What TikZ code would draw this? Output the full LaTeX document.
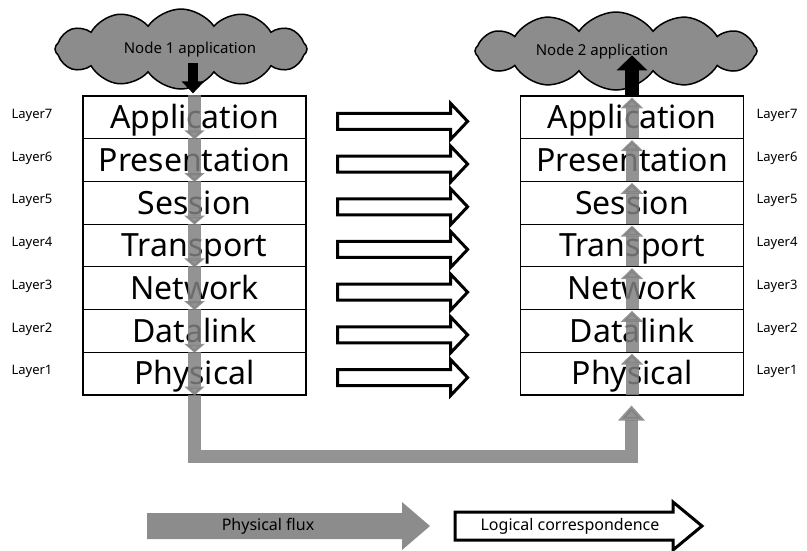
\documentclass[tikz,border=0pt]{standalone}
\usepackage{fontspec}
\setmainfont{Noto Sans}
\usetikzlibrary{shapes.symbols,arrows.meta,calc}

\begin{document}
\begin{tikzpicture}[x=1pt,y=-1pt,
  layerbox/.style={draw=black, line width=1.2pt, minimum width=223pt,
    minimum height=42.7pt, inner sep=0pt, text height=22.8pt, text depth=0pt,
    font=\fontsize{32}{34}\selectfont},
  layerlabel/.style={font=\fontsize{13}{15}\selectfont, inner sep=0pt},
  logic/.style={draw=black, fill=white, line width=3pt, line join=miter},
  flux/.style={draw=black!50, line width=13pt, opacity=0.85},
  fluxfill/.style={fill=black!50, draw=none, opacity=0.9},
  cloudnode/.style={cloud, cloud puffs=12, cloud puff arc=110, aspect=3.2,
    draw=black, line width=1.5pt, fill=black!45, inner sep=0pt},
  cloudtext/.style={font=\fontsize{15}{17}\selectfont, inner sep=0pt},
  blackarrow/.style={draw=black, line width=#1}
]
\useasboundingbox (0,0) rectangle (807,550);

% application clouds
\node[cloudnode, minimum width=252pt, minimum height=80pt] (cloudA) at (181,49) {};
\node[cloudnode, minimum width=282pt, minimum height=78pt] (cloudB) at (616,51) {};
\node[cloudtext] (cloudAtext) at (190,50) {Node 1 application};
\node[cloudtext] (cloudBtext) at (602,52) {Node 2 application};

% the two protocol stacks
\foreach \i/\name/\lay in {1/Application/7,2/Presentation/6,3/Session/5,
    4/Transport/4,5/Network/3,6/Datalink/2,7/Physical/1}{
  \pgfmathsetmacro{\yc}{96+42.7*(\i-0.5)}
  \node[layerbox] (L\i) at (194.5,\yc) {\name};
  \node[layerbox] (R\i) at (632,\yc) {\name};
  \node[layerlabel] (LL\i) at (32,\yc-2) {Layer\lay};
  \node[layerlabel] (RL\i) at (777,\yc-2) {Layer\lay};
  % logical correspondence between peer layers
  \coordinate (la\i) at ($(L\i.east)+(31,4)$);
  \draw[logic] ($(la\i)+(0,-8)$) -- ++(113,0) -- ++(0,-10) -- ++(17,18)
    -- ++(-17,18) -- ++(0,-10) -- ++(-113,0) -- cycle;
}

% physical flux down through node 1
\foreach \i in {1,...,7}{
  \draw[flux, -{Triangle[width=20pt,length=9pt]}] (L\i.north) -- (L\i.south);
}
% physical flux up through node 2
\foreach \i in {1,...,7}{
  \draw[flux, -{Triangle[width=22pt,length=11pt]}] ($(R\i.south)+(0,-1)$) -- ($(R\i.north)+(0,2)$);
}
% medium link between the two nodes
\coordinate (fluxA) at ($(L7.south)+(0,-1)$);
\coordinate (fluxB) at ($(L7.south)+(0,60.5)$);
\coordinate (fluxC) at ($(R7.south)+(-0.5,60.5)$);
\coordinate (fluxD) at ($(R7.south)+(-0.5,10)$);
\draw[flux, line join=miter, -{Triangle[width=26pt,length=15pt]}]
  (fluxA) -- (fluxB) -- (fluxC) -- (fluxD);

% application entry and exit
\coordinate (inA) at ($(L1.north)+(-1.5,-32)$);
\draw[blackarrow=10pt, -{Triangle[width=22pt,length=12pt]}] (inA) -- ($(L1.north)+(-1.5,-2)$);
\coordinate (outB) at ($(R1.north)+(0,-40)$);
\draw[blackarrow=14pt, -{Triangle[width=30pt,length=15pt]}] ($(R1.north)+(0,0)$) -- (outB);

% legend
\fill[fluxfill] (147,513) -- (402,513) -- (402,502) -- (430,526) -- (402,550)
  -- (402,539) -- (147,539) -- cycle;
\node[cloudtext, font=\fontsize{16}{18}\selectfont] (legflux) at (268,526) {Physical flux};
\draw[logic] (455,512) -- (673,512) -- (673,502) -- (702,526) -- (673,550)
  -- (673,540) -- (455,540) -- cycle;
\node[cloudtext, font=\fontsize{16}{18}\selectfont] (leglogic) at (570,526) {Logical correspondence};
\end{tikzpicture}
\end{document}
